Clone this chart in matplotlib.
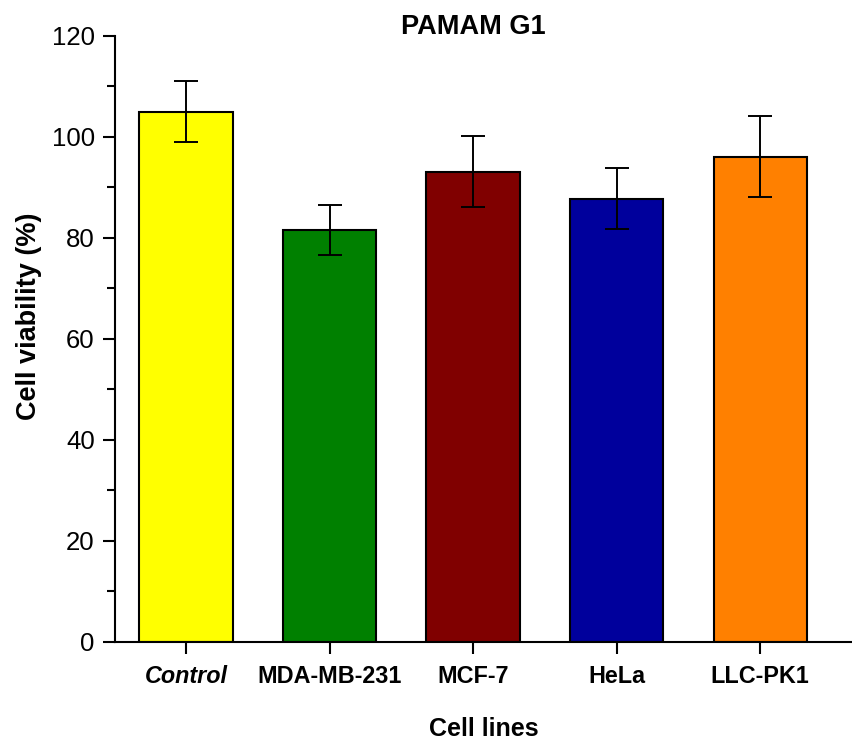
import matplotlib.pyplot as plt
import numpy as np
from matplotlib.ticker import MultipleLocator

plt.rcParams["font.family"] = ["Liberation Sans", "DejaVu Sans"]

cell_lines = ["Control", "MDA-MB-231", "MCF-7", "HeLa", "LLC-PK1"]
viability = [105.0, 81.6, 93.1, 87.8, 96.1]
viability_sd = [6.0, 5.0, 7.0, 6.0, 8.0]
bar_colors = ["#FFFF00", "#008000", "#800000", "#00009C", "#FF8000"]


def main():
    fig = plt.figure(figsize=(8.52, 7.42), dpi=100)
    ax = fig.add_axes([0.135, 0.1348, 0.865, 0.8167])

    x = np.arange(len(cell_lines))
    ax.bar(x, viability, width=0.65, color=bar_colors, edgecolor="black", linewidth=1.5, zorder=2)
    ax.errorbar(x, viability, yerr=viability_sd, fmt="none", ecolor="black",
                elinewidth=1.4, capsize=8.3, capthick=1.4, zorder=3)

    ax.set_xlim(-0.495, 4.64)
    ax.set_ylim(0, 120)
    ax.yaxis.set_major_locator(MultipleLocator(20))
    ax.yaxis.set_minor_locator(MultipleLocator(10))

    ax.spines["top"].set_visible(False)
    ax.spines["right"].set_visible(False)
    for side in ("left", "bottom"):
        ax.spines[side].set_linewidth(1.5)

    ax.tick_params(axis="both", which="major", direction="out", length=8.6, width=1.5)
    ax.tick_params(axis="y", which="minor", direction="out", length=5.8, width=1.5)
    ax.tick_params(axis="y", labelsize=18.5, pad=6)
    ax.tick_params(axis="x", labelsize=16.8, pad=8)

    ax.set_xticks(x)
    ax.set_xticklabels(cell_lines, fontweight="bold")
    ax.get_xticklabels()[0].set_fontstyle("italic")

    ax.set_ylabel("Cell viability (%)", fontsize=19.5, fontweight="bold", va="center")
    ax.yaxis.set_label_coords(-0.117, 0.538)
    ax.set_xlabel("Cell lines", fontsize=18, fontweight="bold", va="center")
    ax.xaxis.set_label_coords(0.5, -0.1436)
    fig.text(0.555, 0.963, "PAMAM G1", fontsize=19.5, fontweight="bold", ha="center", va="center")

    fig.savefig("out.png", dpi=100)
    plt.close(fig)


if __name__ == "__main__":
    main()
